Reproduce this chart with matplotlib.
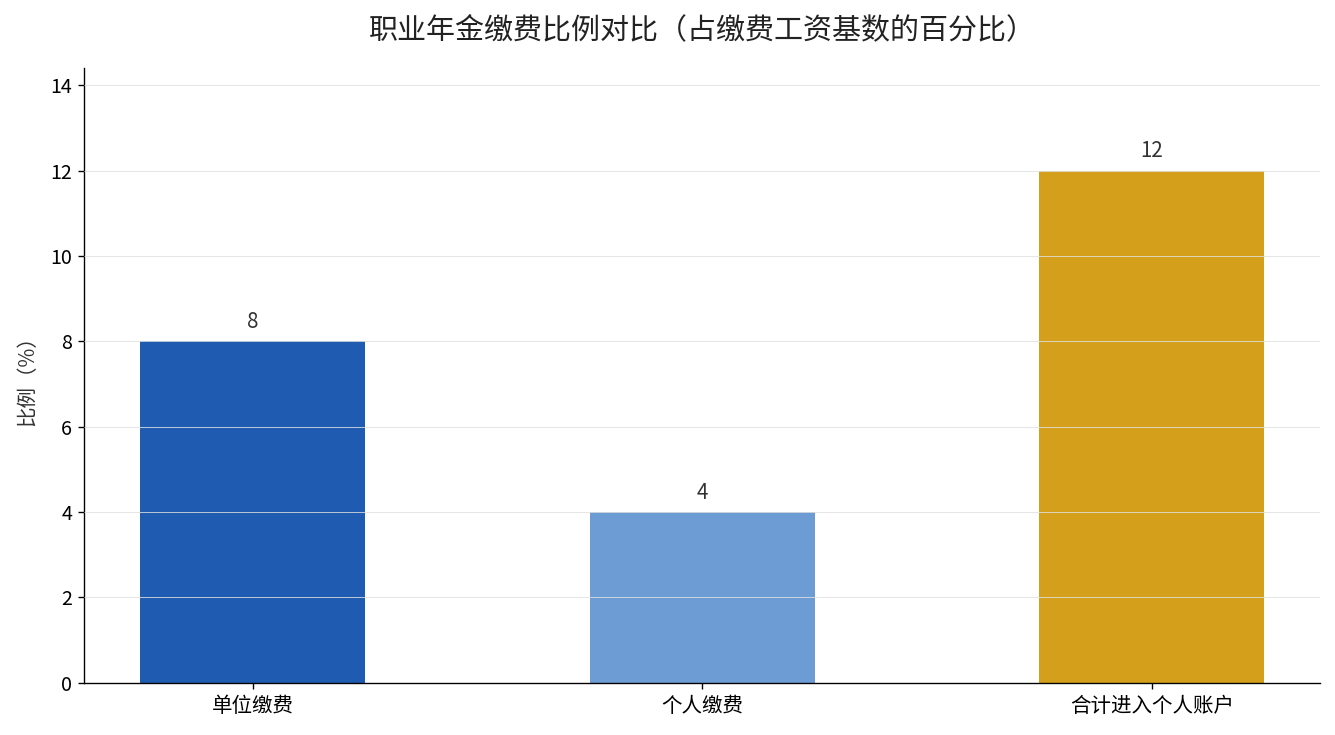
import matplotlib
matplotlib.use("Agg")
import matplotlib.pyplot as plt

plt.rcParams['font.family'] = ['Noto Sans CJK SC', 'DejaVu Sans']

categories = ["单位缴费", "个人缴费", "合计进入个人账户"]
values = [8, 4, 12]
colors = ["#1f5bb0", "#6d9cd4", "#d4a01c"]

fig, ax = plt.subplots(figsize=(1335 / 123, 735 / 123), dpi=123)
bars = ax.bar(categories, values, width=0.5, color=colors)
for b, v in zip(bars, values):
    ax.annotate(str(v), (b.get_x() + b.get_width() / 2, v), xytext=(0, 5),
                textcoords="offset points", ha="center", va="bottom",
                fontsize=12, color="#333333")

ax.set_ylim(0, 14.4)
ax.set_yticks(range(0, 15, 2))
ax.set_ylabel("比例（%）", fontsize=12, color="#333333", labelpad=7)
ax.set_title("职业年金缴费比例对比（占缴费工资基数的百分比）", fontsize=17, pad=17, color="#222222")
ax.grid(axis="y", color="#e0e0e0", linewidth=0.6, alpha=0.8)
ax.set_axisbelow(False)
ax.spines["top"].set_visible(False)
ax.spines["right"].set_visible(False)
ax.tick_params(axis="x", labelsize=12)
ax.tick_params(axis="y", labelsize=11.5)

plt.subplots_adjust(left=0.063, right=0.989, top=0.907, bottom=0.071)
plt.savefig("out.png")
